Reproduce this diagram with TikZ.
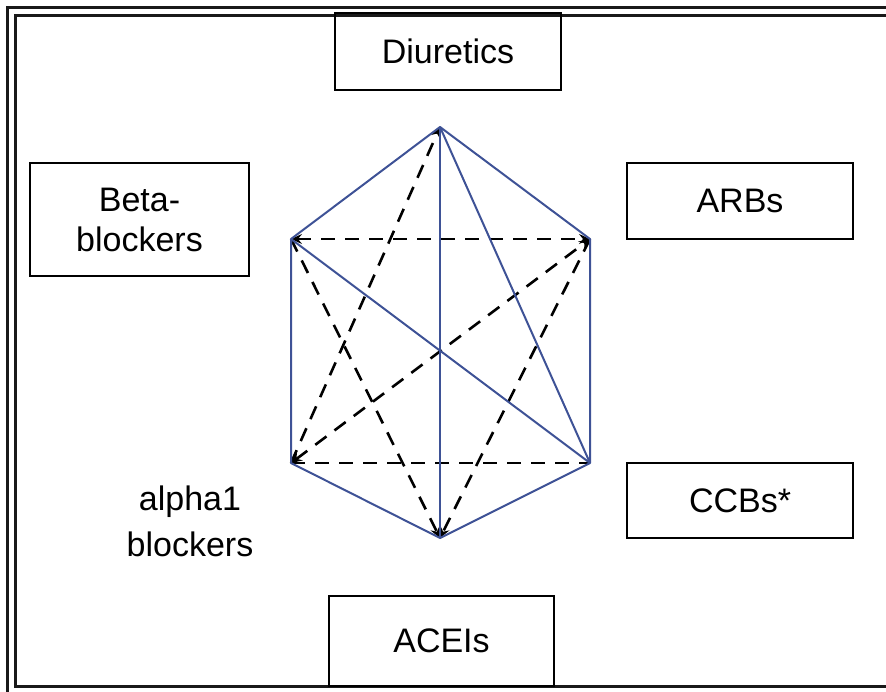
\documentclass[tikz,border=0pt]{standalone}
\usepackage{fontspec}
\setmainfont{Liberation Sans}
\usetikzlibrary{arrows.meta}
\definecolor{hexblue}{RGB}{62,82,150}
\begin{document}
\begin{tikzpicture}[x=1pt,y=-1pt,
  drug/.style={draw=black,line width=2pt,minimum width=#1,inner sep=0pt,align=center,
    font=\fontsize{34}{40}\selectfont},
  label/.style={inner sep=0pt,align=center,font=\fontsize{34}{46}\selectfont},
  edge/.style={draw=hexblue,line width=2pt},
  link/.style={draw=black,line width=2.6pt,dash pattern=on 14pt off 10pt},
  tip/.style={-{Stealth[length=11pt,width=10pt,inset=4pt]}},
  tips/.style={{Stealth[length=11pt,width=10pt,inset=4pt]}-{Stealth[length=11pt,width=10pt,inset=4pt]}}]
\useasboundingbox (0,0) rectangle (886,691);
% double frame
\draw[line width=3pt,black!90] (7.5,7.5) rectangle (898,694);
\draw[line width=3pt,black!90] (15.5,15.5) rectangle (890,686);
% drug class boxes
\node[drug=226pt,minimum height=77pt] (diu) at (448,51.5) {Diuretics};
\node[drug=219pt,minimum height=113pt] (beta) at (139.5,219.5) {Beta-\\blockers};
\node[drug=226pt,minimum height=76pt] (arb) at (740,201) {ARBs};
\node[drug=226pt,minimum height=75pt] (ccb) at (740,500.5) {CCBs*};
\node[drug=225pt,minimum height=90pt] (acei) at (441.5,641) {ACEIs};
\node[label] (alpha) at (190,521) {alpha1\\blockers};
% hexagon vertices
\coordinate (T) at (440,127);
\coordinate (UL) at (291,239);
\coordinate (UR) at (590,239);
\coordinate (LL) at (291,463);
\coordinate (LR) at (590,463);
\coordinate (B) at (440,538);
% dashed links
\draw[link,tips] (UL) -- (UR);
\draw[link] (LL) -- (LR);
\draw[link,tips] (LL) -- (UR);
\draw[link,tip] (LL) -- (T);
\draw[link,tip] (UL) -- (B);
\draw[link,tip] (UR) -- (B);
% solid blue links
\draw[edge,line join=round] (T) -- (UR) -- (LR) -- (B) -- (LL) -- (UL) -- cycle;
\draw[edge] (T) -- (B);
\draw[edge] (T) -- (LR);
\draw[edge] (UL) -- (LR);
\end{tikzpicture}
\end{document}
